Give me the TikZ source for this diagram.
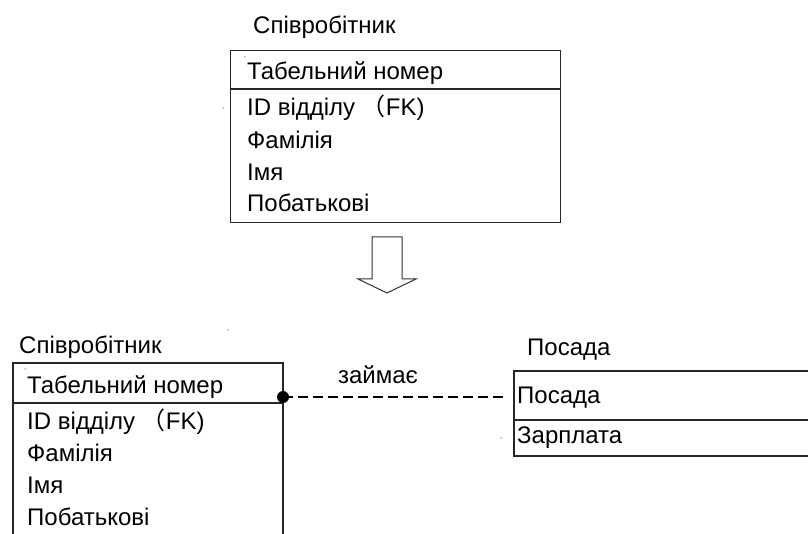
\documentclass[tikz,border=0pt]{standalone}
\usepackage{fontspec}
\setmainfont{Liberation Sans}
\newfontfamily\cjkfont{Noto Sans CJK SC}
\begin{document}
\begin{tikzpicture}[x=1pt,y=-1pt,
  ent/.style={draw=black!85,line width=1.3pt,anchor=north west,inner sep=0pt},
  sep/.style={draw=black!85,line width=1.3pt},
  txt/.style={anchor=west,inner sep=0pt,font=\fontsize{24}{28}\selectfont},
  stray/.style={fill=black!50,draw=none,circle,inner sep=0pt,minimum size=1.5pt},
  rel/.style={draw=black,line width=1.3pt,dash pattern=on 10pt off 5pt}]
\useasboundingbox (0,0) rectangle (808,534);
\begin{scope}
\clip (0,0) rectangle (808,534);
% top entity
\node[txt] (t1) at (253,27) {Співробітник};
\node[ent,minimum width=330pt,minimum height=172pt] (e1) at (230,50) {};
\draw[sep] (230,89) -- (560,89);
\node[txt] (t1a) at (247,73) {Табельний номер};
\node[txt] (t1b) at (247,108) {ID відділу {\cjkfont （}FK)};
\node[txt] (t1c) at (247,140) {Фамілія};
\node[txt] (t1d) at (247,172) {Імя};
\node[txt] (t1e) at (247,203) {Побатькові};
% arrow
\draw[line width=1pt,draw=black!80,fill=white] (372,237) -- (402,237) -- (402,279) -- (416,279) -- (387,293) -- (358,279) -- (372,279) -- cycle;
% bottom-left entity
\node[txt] (t2) at (19,347) {Співробітник};
\draw[sep] (13,540) -- (13,363) -- (283,363) -- (283,540);
\draw[sep] (13,403) -- (283,403);
\node[txt] (t2a) at (27,387) {Табельний номер};
\node[txt] (t2b) at (27,422) {ID відділу {\cjkfont （}FK)};
\node[txt] (t2c) at (27,453) {Фамілія};
\node[txt] (t2d) at (27,485) {Імя};
\node[txt] (t2e) at (27,517) {Побатькові};
% right entity
\node[txt] (t3) at (527,350) {Посада};
\draw[sep] (815,371) -- (514,371) -- (514,456) -- (815,456);
\draw[sep] (514,420) -- (815,420);
\node[txt] (t3a) at (517,398) {Посада};
\node[txt] (t3b) at (517,438) {Зарплата};
% relationship
\coordinate (c1) at (283,397);
\coordinate (c2) at (505,397);
\draw[rel] (c1) -- (c2);
\fill (c1) circle (6pt);
\node[font=\fontsize{24}{28}\selectfont,inner sep=0pt] (lab) at (378,375) {займає};
% stray dots
\node[stray] (d1) at (245,57) {};
\node[stray] (d2) at (223,108) {};
\node[stray] (d3) at (228,330) {};
\node[stray] (d4) at (25,369) {};
\node[stray] (d5) at (501,438) {};
\end{scope}
\end{tikzpicture}
\end{document}
